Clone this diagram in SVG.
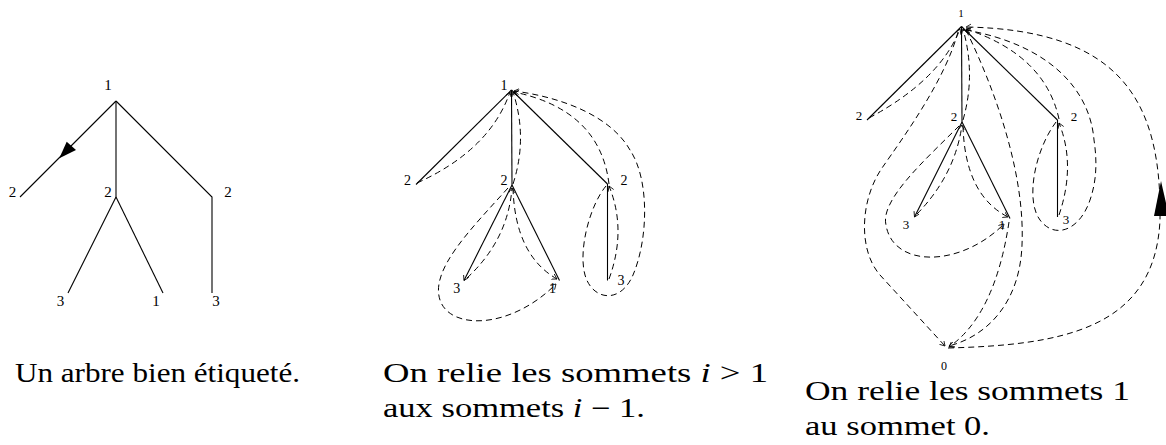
<svg xmlns="http://www.w3.org/2000/svg" width="1166" height="445" viewBox="0 0 1166 445">
<style>
.s{fill:none;stroke:#000;stroke-width:1.1}
.d{fill:none;stroke:#000;stroke-width:1;stroke-dasharray:6 4}
.t{marker-end:url(#tip)}
.lb{font-family:'Liberation Serif','Times New Roman',serif;fill:#000;text-anchor:middle}
.l1{font-size:15px}
.l2{font-size:14px}
.l3{font-size:13px}
.cap{font-family:'Liberation Serif','Times New Roman',serif;font-size:27px;fill:#000}
</style>
<defs>
<marker id="tip" markerWidth="8" markerHeight="8" refX="5" refY="3" orient="auto" markerUnits="userSpaceOnUse">
<path d="M0,0 L5,3 L0,6" fill="none" stroke="#000" stroke-width="0.8"/>
</marker>
</defs>
<rect width="1166" height="445" fill="#fff"/>

<!-- Tree 1 -->
<g id="tree1">
<g id="t1-edges">
<path class="s" d="M116,101 L20,197"/>
<path class="s" d="M116,101 L116,197"/>
<path class="s" d="M116,101 L212,197 L212,293"/>
<path class="s" d="M116,197 L68,293"/>
<path class="s" d="M116,197 L163,293"/>
<polygon points="59.3,158.3 66.7,141.7 76,150" fill="#000"/>
</g>
<g id="t1-n-root"><text class="lb l1" x="108" y="90">1</text></g>
<g id="t1-n-l2"><text class="lb l1" x="12.5" y="197">2</text></g>
<g id="t1-n-m2"><text class="lb l1" x="108" y="197">2</text></g>
<g id="t1-n-r2"><text class="lb l1" x="228" y="197">2</text></g>
<g id="t1-n-m3"><text class="lb l1" x="60.5" y="306">3</text></g>
<g id="t1-n-m1"><text class="lb l1" x="156" y="306">1</text></g>
<g id="t1-n-r3"><text class="lb l1" x="216" y="306">3</text></g>
</g>

<!-- Tree 2 -->
<g id="tree2">
<g id="t2-edges">
<path class="s" d="M511.5,90 L416,184.5"/>
<path class="s" d="M511.5,90 L512,185"/>
<path class="s" d="M511.5,90 L607.5,184"/>
<path class="s t" d="M512,185 L464,280.5"/>
<path class="s" d="M512,185 L559.5,280.5"/>
<path class="s" d="M607.5,184 L607.5,280.5"/>
<path class="d t" d="M417,183 Q490,150 510,92"/>
<path class="d t" d="M513,184 Q528,138 513,92"/>
<path class="d t" d="M609,184 Q600,110 514,92"/>
<path class="d t" d="M606,186 C590,205 578,250 585,275 C592,300 620,305 633,275 C648,240 650,180 630,150 C610,115 560,97 514,91"/>
<path class="d t" d="M609,279 Q627,230 609,186"/>
<path class="d t" d="M467,278 Q508,240 512,188"/>
<path class="d t" d="M513,188 Q515,255 557,279"/>
<path class="d t" d="M508,188 C470,230 430,270 440,300 C450,330 510,330 556,284"/>
</g>
<g id="t2-n-root"><text class="lb l2" x="504" y="90">1</text></g>
<g id="t2-n-l2"><text class="lb l2" x="407.5" y="185">2</text></g>
<g id="t2-n-m2"><text class="lb l2" x="504" y="185">2</text></g>
<g id="t2-n-r2"><text class="lb l2" x="624" y="185">2</text></g>
<g id="t2-n-m3"><text class="lb l2" x="456.7" y="293">3</text></g>
<g id="t2-n-m1"><text class="lb l2" x="552.5" y="293">1</text></g>
<g id="t2-n-r3"><text class="lb l2" x="621" y="285">3</text></g>
</g>

<!-- Tree 3 -->
<g id="tree3">
<g id="t3-edges">
<path class="s" d="M961.5,26.5 L867,120"/>
<path class="s" d="M961.5,26.5 L962,122"/>
<path class="s" d="M961.5,26.5 L1057.5,120"/>
<path class="s t" d="M962,122 L914.5,217"/>
<path class="s" d="M962,122 L1010,218.5"/>
<path class="s" d="M1057.5,120 L1057.5,217"/>
<path class="d t" d="M869,118 Q940,80 960,29"/>
<path class="d t" d="M963,120 Q976,75 963,29"/>
<path class="d t" d="M1059,119 Q1045,55 966,29"/>
<path class="d t" d="M1056,122 C1035,150 1025,200 1040,220 C1055,240 1080,230 1090,200 C1097,180 1097,160 1094,140 C1090,90 1050,45 966,30"/>
<path class="d t" d="M1059,215 Q1076,165 1059,123"/>
<path class="d t" d="M917,214 Q955,175 962,125"/>
<path class="d t" d="M963,126 Q965,195 1008,217"/>
<path class="d t" d="M959,126 C925,160 880,200 886,225 C893,268 960,268 1004,224"/>
<path class="d t" d="M958,32 C945,80 905,135 882,168 C860,200 858,250 880,275 L945,346"/>
<path class="d t" d="M966,30 C1000,100 1025,180 1022,245 C1020,300 990,335 949,346"/>
<path class="d t" d="M1009,222 Q995,315 949,347"/>
<path class="d t" d="M948,348 C1060,345 1155,330 1160,220 C1162,100 1120,30 966,27"/>
<polygon points="1161,181 1154,216 1169,216" fill="#000"/>
</g>
<g id="t3-n-root"><text class="lb" style="font-size:11px" x="961" y="17">1</text></g>
<g id="t3-n-l2"><text class="lb l3" x="859" y="120">2</text></g>
<g id="t3-n-m2"><text class="lb l3" x="954" y="121">2</text></g>
<g id="t3-n-r2"><text class="lb l3" x="1074" y="121">2</text></g>
<g id="t3-n-m3"><text class="lb l3" x="906" y="229">3</text></g>
<g id="t3-n-m1"><text class="lb l3" x="1002" y="229">1</text></g>
<g id="t3-n-r3"><text class="lb l3" x="1066" y="224">3</text></g>
<g id="t3-n-0"><text class="lb" style="font-size:12px" x="944" y="370">0</text></g>
</g>

<!-- Captions -->
<g id="captions">
<text class="cap" x="15" y="382" textLength="285" lengthAdjust="spacingAndGlyphs">Un arbre bien étiqueté.</text>
<text class="cap" x="383" y="382" textLength="385" lengthAdjust="spacingAndGlyphs">On relie les sommets <tspan font-style="italic">i</tspan> &gt; 1</text>
<text class="cap" x="383" y="417" textLength="262" lengthAdjust="spacingAndGlyphs">aux sommets <tspan font-style="italic">i</tspan> − 1.</text>
<text class="cap" x="805" y="400" textLength="325" lengthAdjust="spacingAndGlyphs">On relie les sommets 1</text>
<text class="cap" x="805" y="435" textLength="185" lengthAdjust="spacingAndGlyphs">au sommet 0.</text>
</g>
</svg>
